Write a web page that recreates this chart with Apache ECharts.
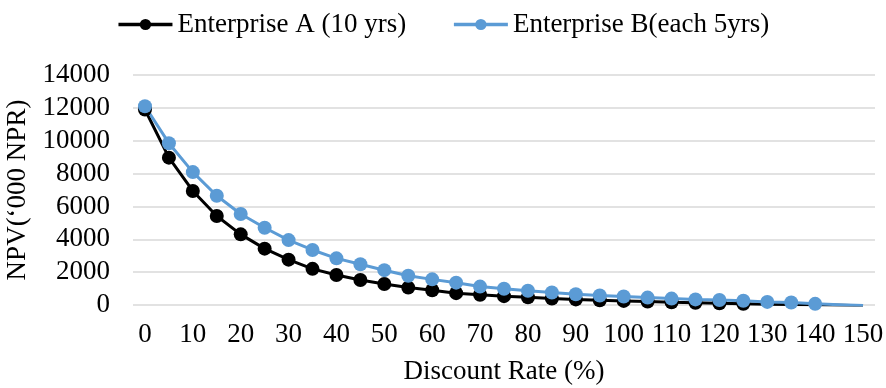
<!DOCTYPE html>
<html>
<head>
<meta charset="utf-8">
<script src="https://cdn.jsdelivr.net/npm/echarts@6/dist/echarts.min.js"></script>
<style>
  html, body { margin: 0; padding: 0; background: #fff; }
  #chart { width: 886px; height: 388px; }
</style>
</head>
<body>
<div id="chart"></div>
<script>
// Discount rates (%) on the category axis
const rates = [0,5,10,15,20,25,30,35,40,45,50,55,60,65,70,75,80,85,90,95,100,105,110,115,120,125,130,135,140,145,150];

// NPV ('000 NPR) for each enterprise at every discount rate
const npvA = [11900,8970,6940,5420,4300,3430,2760,2200,1830,1520,1280,1060,900,720,620,540,470,400,340,290,250,210,170,140,110,80,50,30,10,-10,-40];
const npvB = [12100,9850,8090,6650,5540,4700,3950,3350,2840,2480,2120,1780,1560,1360,1120,990,870,760,650,580,520,450,390,340,300,260,190,150,70,20,-30];

// Last discount rate that carries a marker on each line
const lastMarkedA = 125;
const lastMarkedB = 140;

const seriesNames = ['Enterprise A (10 yrs)', 'Enterprise B(each 5yrs)'];
const yTicks = { min: 0, max: 14000, step: 2000 };

const FONT = '"Liberation Serif", "Times New Roman", serif';
const FS = 27;

function withMarkers(values, lastMarked) {
  return values.map((v, i) =>
    rates[i] <= lastMarked ? v : { value: v, symbol: 'none' });
}

const chart = echarts.init(document.getElementById('chart'), null, { renderer: 'canvas' });

chart.setOption({
  animation: false,
  textStyle: { fontFamily: FONT, color: '#000' },
  legend: {
    top: 6,
    left: 'center',
    itemWidth: 54,
    itemHeight: 14,
    itemGap: 46,
    lineStyle: { width: 3.5 },
    textStyle: { fontFamily: FONT, fontSize: FS, color: '#000' },
    data: seriesNames
  },
  grid: {
    left: 133, right: 11, top: 75, bottom: 83,
    containLabel: false,
    outerBoundsMode: 'none'
  },
  xAxis: {
    type: 'category',
    data: rates,
    boundaryGap: true,
    name: 'Discount Rate (%)',
    nameLocation: 'middle',
    nameGap: 53,
    nameTextStyle: { fontFamily: FONT, fontSize: FS, color: '#000' },
    axisLine: { show: false },
    axisTick: { show: false },
    axisLabel: { interval: 1, margin: 16, fontFamily: FONT, fontSize: FS, color: '#000' }
  },
  yAxis: {
    type: 'value',
    min: yTicks.min,
    max: yTicks.max,
    interval: yTicks.step,
    name: 'NPV(‘000 NPR)',
    nameLocation: 'middle',
    nameGap: 97,
    nameTextStyle: { fontFamily: FONT, fontSize: FS, color: '#000' },
    axisLine: { show: false },
    axisTick: { show: false },
    axisLabel: {
      margin: 23, fontFamily: FONT, fontSize: FS, color: '#000',
      formatter: v => String(v)
    },
    splitLine: { lineStyle: { color: '#d9d9d9', width: 1.5 } }
  },
  series: [
    {
      name: seriesNames[0],
      type: 'line',
      data: withMarkers(npvA, lastMarkedA),
      symbol: 'circle',
      symbolSize: 14,
      showAllSymbol: true,
      lineStyle: { color: '#000000', width: 3 },
      itemStyle: { color: '#000000' }
    },
    {
      name: seriesNames[1],
      type: 'line',
      data: withMarkers(npvB, lastMarkedB),
      symbol: 'circle',
      symbolSize: 14,
      showAllSymbol: true,
      lineStyle: { color: '#5b9bd5', width: 3 },
      itemStyle: { color: '#5b9bd5' }
    }
  ]
});
</script>
</body>
</html>
